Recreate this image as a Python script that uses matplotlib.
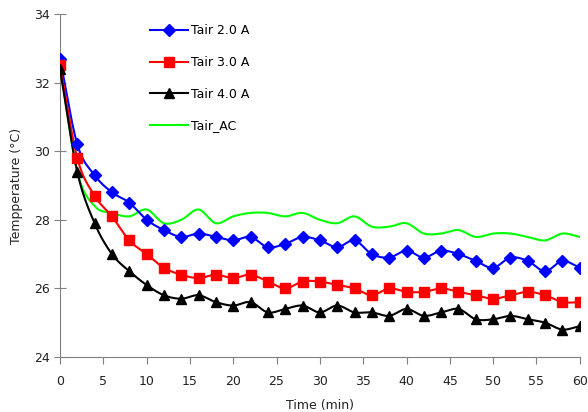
import numpy as np
import matplotlib
matplotlib.use("Agg")
import matplotlib.pyplot as plt
from matplotlib.lines import Line2D

time_min = list(range(0, 61, 2))
tair_2A = [32.7, 30.2, 29.3, 28.8, 28.5, 28.0, 27.7, 27.5, 27.6, 27.5, 27.4, 27.5, 27.2, 27.3, 27.5, 27.4,
           27.2, 27.4, 27.0, 26.9, 27.1, 26.9, 27.1, 27.0, 26.8, 26.6, 26.9, 26.8, 26.5, 26.8, 26.6]
tair_3A = [32.5, 29.8, 28.7, 28.1, 27.4, 27.0, 26.6, 26.4, 26.3, 26.4, 26.3, 26.4, 26.2, 26.0, 26.2, 26.2,
           26.1, 26.0, 25.8, 26.0, 25.9, 25.9, 26.0, 25.9, 25.8, 25.7, 25.8, 25.9, 25.8, 25.6, 25.6]
tair_4A = [32.4, 29.4, 27.9, 27.0, 26.5, 26.1, 25.8, 25.7, 25.8, 25.6, 25.5, 25.6, 25.3, 25.4, 25.5, 25.3,
           25.5, 25.3, 25.3, 25.2, 25.4, 25.2, 25.3, 25.4, 25.1, 25.1, 25.2, 25.1, 25.0, 24.8, 24.9]
tair_ac = [32.5, 29.4, 28.4, 28.2, 28.1, 28.3, 27.9, 28.0, 28.3, 27.9, 28.1, 28.2, 28.2, 28.1, 28.2, 28.0,
           27.9, 28.1, 27.8, 27.8, 27.9, 27.6, 27.6, 27.7, 27.5, 27.6, 27.6, 27.5, 27.4, 27.6, 27.5]


def smooth(x, y, n=20):
    x = np.asarray(x, float)
    y = np.asarray(y, float)
    px = np.concatenate([[2 * x[0] - x[1]], x, [2 * x[-1] - x[-2]]])
    py = np.concatenate([[2 * y[0] - y[1]], y, [2 * y[-1] - y[-2]]])
    xs, ys = [], []
    t = np.linspace(0, 1, n, endpoint=False)
    for i in range(1, len(px) - 2):
        for arr, out in ((px, xs), (py, ys)):
            p0, p1, p2, p3 = arr[i - 1], arr[i], arr[i + 1], arr[i + 2]
            out.extend(0.5 * ((2 * p1) + (-p0 + p2) * t + (2 * p0 - 5 * p1 + 4 * p2 - p3) * t ** 2
                              + (-p0 + 3 * p1 - 3 * p2 + p3) * t ** 3))
    xs.append(x[-1])
    ys.append(y[-1])
    return np.array(xs), np.array(ys)


fig = plt.figure(figsize=(5.88, 4.12), dpi=100)
ax = fig.add_axes([0.102, 0.1335, 0.884, 0.8325])

series = [
    (tair_2A, "#0000FF", "D", 6, "Tair 2.0 A"),
    (tair_3A, "#FF0000", "s", 6.5, "Tair 3.0 A"),
    (tair_4A, "#000000", "^", 7, "Tair 4.0 A"),
]
handles = []
for vals, col, mk, ms, lab in series:
    sx, sy = smooth(time_min, vals)
    ax.plot(sx, sy, color=col, lw=1.5, zorder=3)
    ax.plot(time_min, vals, ls="none", marker=mk, ms=ms, color=col, zorder=4)
    handles.append(Line2D([], [], color=col, lw=1.5, marker=mk, ms=ms, label=lab))

sx, sy = smooth(time_min, tair_ac)
ax.plot(sx, sy, color="#00FF00", lw=1.5, zorder=2)
handles.append(Line2D([], [], color="#00FF00", lw=1.5, label="Tair_AC"))

ax.set_xlim(0, 60)
ax.set_ylim(24, 34)
ax.set_xticks(range(0, 61, 5))
ax.set_yticks(range(24, 35, 2))
for s in ("top", "right"):
    ax.spines[s].set_visible(False)
for s in ("left", "bottom"):
    ax.spines[s].set_color("#808080")
ax.tick_params(axis="both", colors="#808080", labelcolor="#222222", labelsize=9, length=5)
ax.tick_params(axis="y", direction="inout", length=8)
ax.tick_params(axis="x", direction="out", length=5, pad=8)
ax.set_xlabel("Time (min)", fontsize=9, color="#222222", labelpad=8)
ax.set_ylabel("Tempperature (°C)", fontsize=9, color="#222222", labelpad=8)

ax.legend(handles=handles, loc="upper left", bbox_to_anchor=(0.152, 1.003), frameon=False,
          fontsize=9, labelspacing=1.5, handlelength=3.0, handletextpad=0.3)

fig.savefig("out.png", dpi=100)
